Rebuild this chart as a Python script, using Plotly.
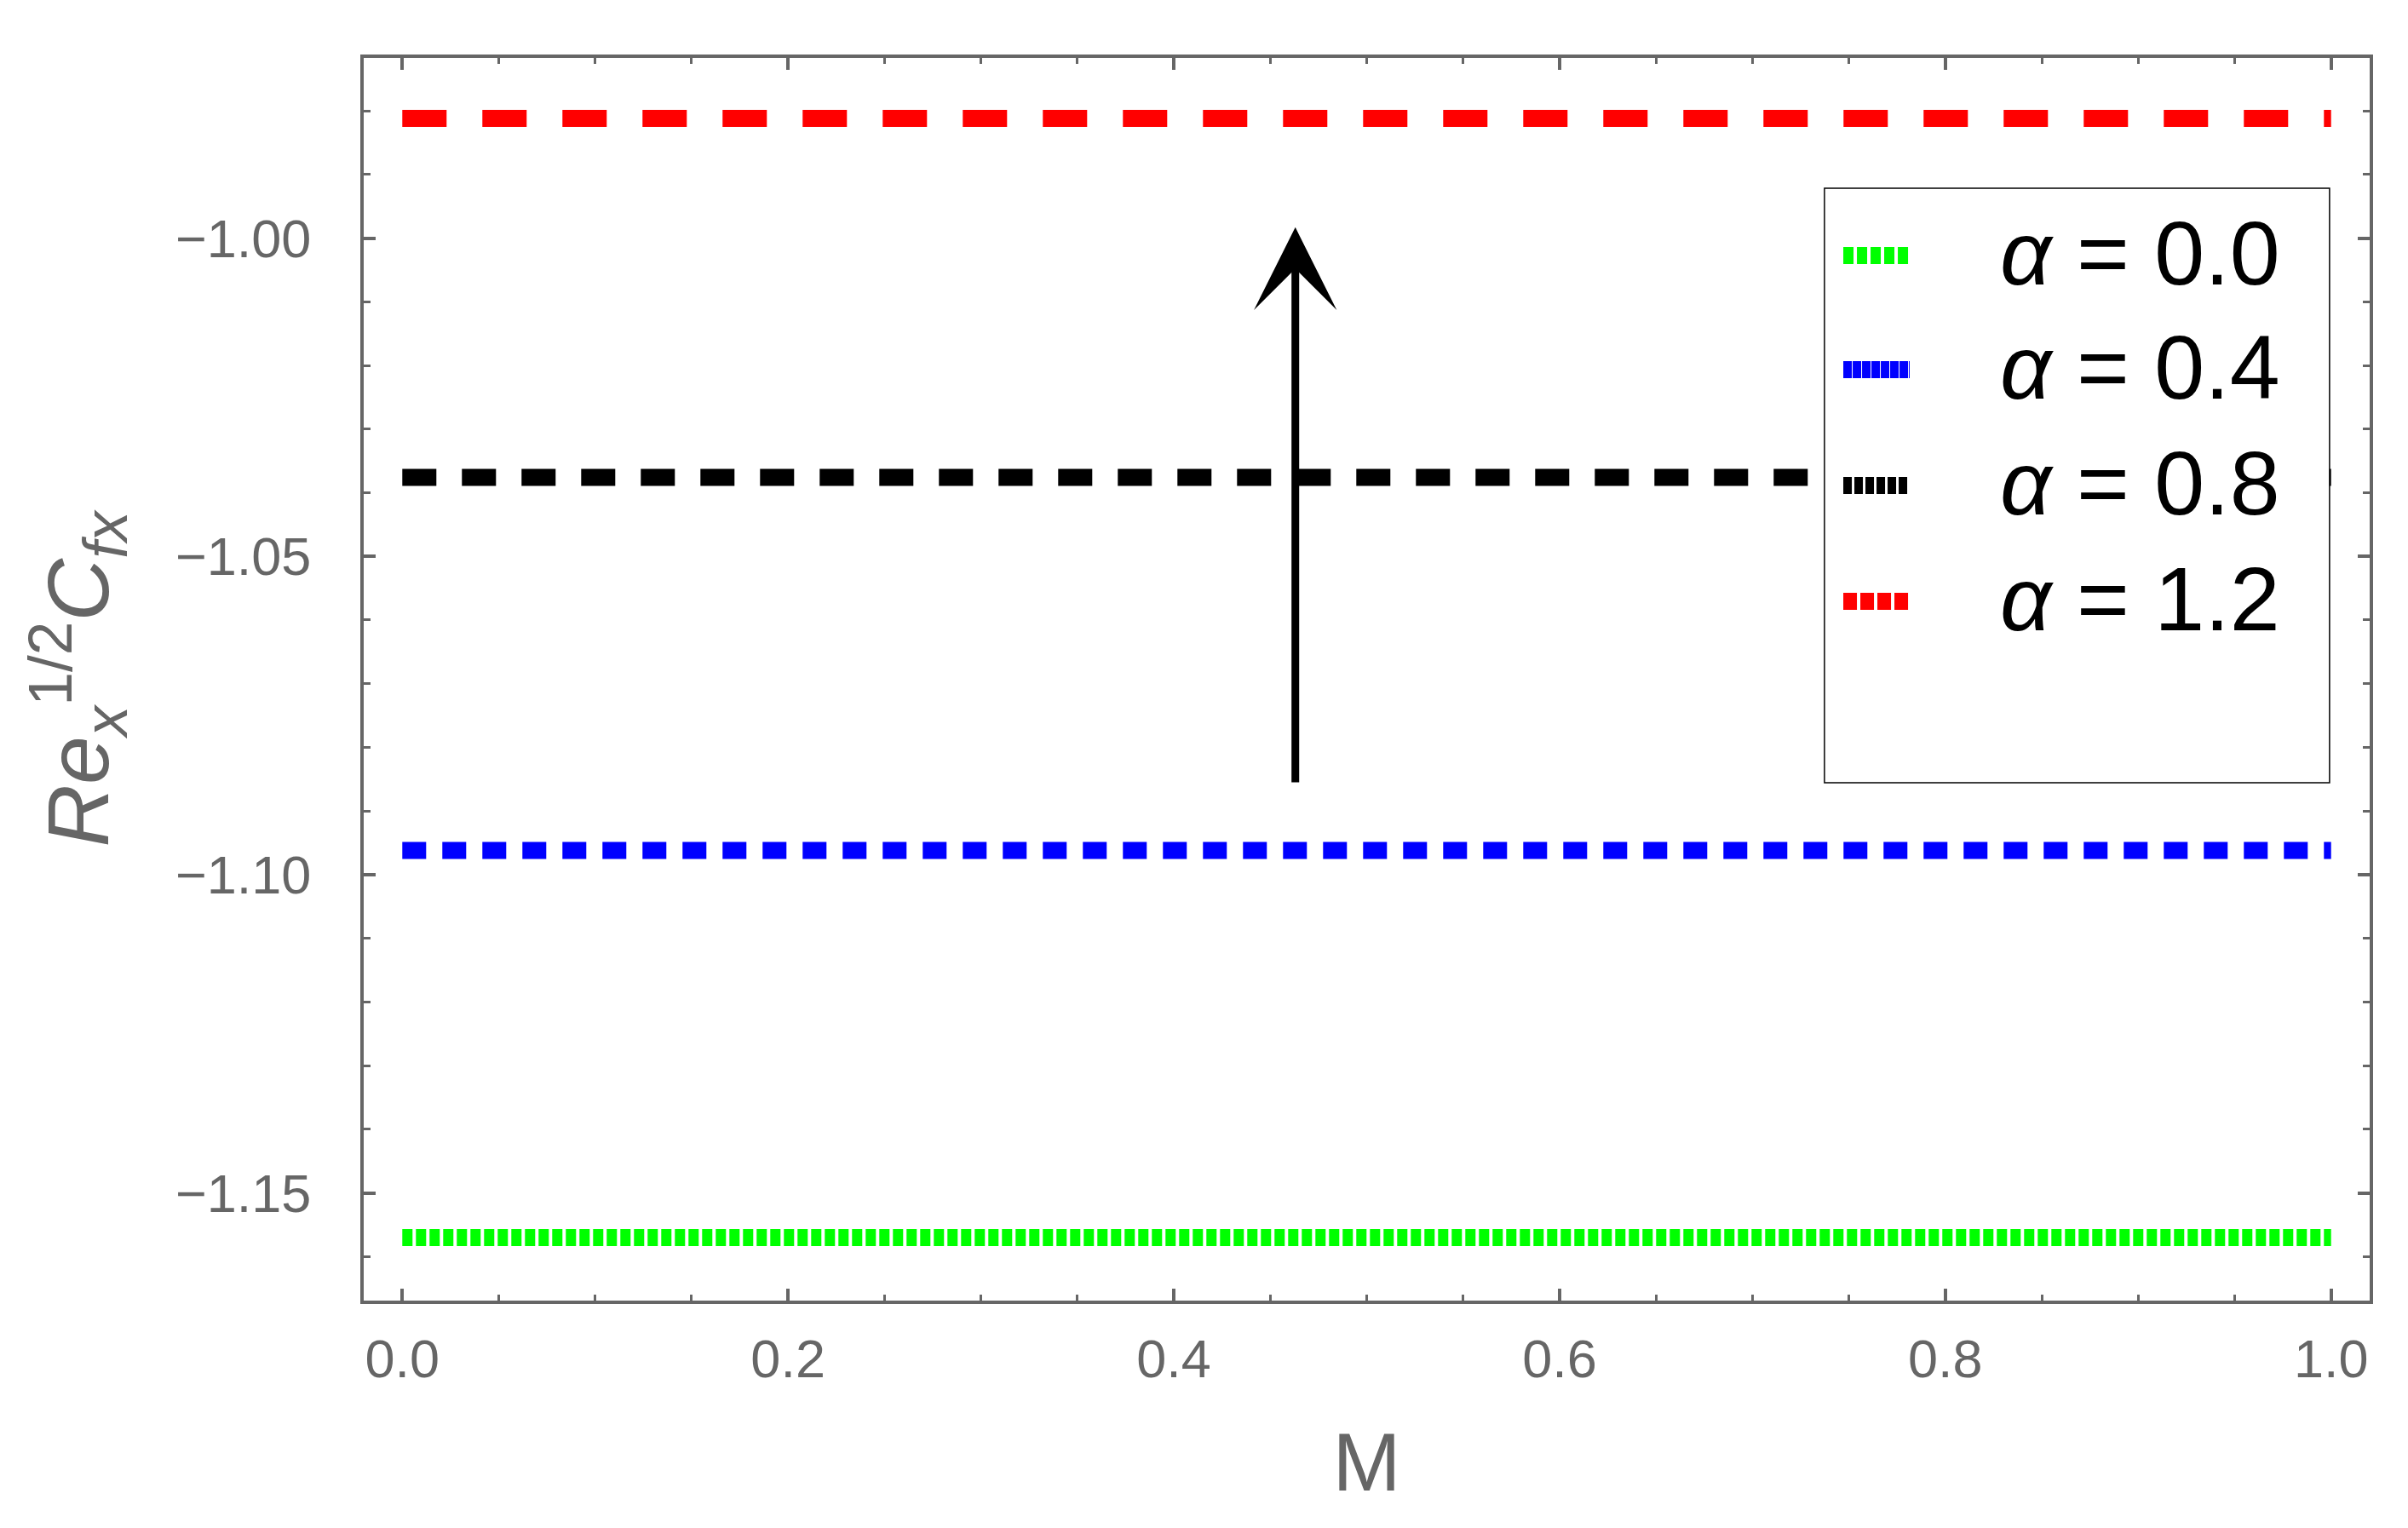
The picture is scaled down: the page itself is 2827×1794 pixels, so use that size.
import plotly.graph_objects as go

# ---- data ----
M = [0.0, 1.0]
alpha_labels = [0.0, 0.4, 0.8, 1.2]
cf_alpha_00 = [-1.157, -1.157]
cf_alpha_04 = [-1.0962, -1.0962]
cf_alpha_08 = [-1.0376, -1.0376]
cf_alpha_12 = [-0.9812, -0.9812]

arrow_x = 0.463
arrow_y_tail = -1.0857
arrow_y_head = -0.9983

series = [cf_alpha_00, cf_alpha_04, cf_alpha_08, cf_alpha_12]
colors = ["#00FF00", "#0000FF", "#000000", "#FF0000"]
dashes = ["12px,4px", "28px,19px", "40px,30px", "52px,42px"]
legend_dashes = ["12px,4px", "10px,1px", "10px,3px", "16px,4px"]

AX = "#666666"
FONT = "Liberation Sans, Arial, sans-serif"

fig = go.Figure()
for vals, c, d, a in zip(series, colors, dashes, alpha_labels):
    fig.add_trace(go.Scatter(x=M, y=vals, mode="lines",
                             line=dict(color=c, width=20, dash=d),
                             name=f"α = {a:.1f}", showlegend=False))

# arrow
fig.add_annotation(x=arrow_x, y=arrow_y_head, ax=arrow_x, ay=arrow_y_tail,
                   xref="x", yref="y", axref="x", ayref="y",
                   showarrow=True, arrowhead=3, arrowsize=1.8, arrowwidth=9,
                   arrowcolor="black", text="")

# manual legend
box = dict(x0=0.7282, x1=0.9800, y0=0.4167, y1=0.8951)
fig.add_shape(type="rect", xref="paper", yref="paper", layer="above",
              fillcolor="white", line=dict(color="black", width=1.5), **box)
row_y = [0.8430, 0.7511, 0.6579, 0.5647]
for a, c, ld, yy in zip(alpha_labels, colors, legend_dashes, row_y):
    fig.add_shape(type="line", xref="paper", yref="paper", layer="above",
                  x0=0.7376, x1=0.7707, y0=yy - 0.002, y1=yy - 0.002,
                  line=dict(color=c, width=20, dash=ld))
    fig.add_annotation(x=0.8150, y=yy, xref="paper", yref="paper",
                       xanchor="left", yanchor="middle", showarrow=False,
                       text=f"<i>α</i> = {a:.1f}",
                       font=dict(family=FONT, size=106, color="black"))

axis_common = dict(showline=True, linecolor=AX, linewidth=4, mirror="ticks",
                   ticks="inside", tickcolor=AX, tickwidth=4, ticklen=14,
                   showgrid=False, zeroline=False,
                   tickfont=dict(family=FONT, size=63, color=AX))

fig.update_xaxes(range=[-0.02, 1.02], tick0=0, dtick=0.2, tickformat=".1f",
                 minor=dict(ticks="inside", dtick=0.05, ticklen=7, tickwidth=3, tickcolor=AX),
                 ticklabelstandoff=10,
                 title=dict(text="M", font=dict(family=FONT, size=96, color=AX), standoff=55),
                 **axis_common)
fig.update_yaxes(range=[-1.1669, -0.9717], tick0=-1.0, dtick=0.05, tickformat=".2f",
                 minor=dict(ticks="inside", dtick=0.01, ticklen=8, tickwidth=3, tickcolor=AX),
                 ticklabelstandoff=45,
                 title=dict(text="<i>Re</i><sub><i>x</i></sub><sup>1/2</sup><i>C</i><sub><i>fx</i></sub>",
                            font=dict(family=FONT, size=102, color=AX), standoff=45),
                 **axis_common)

fig.update_layout(width=2827, height=1794, autosize=False,
                  margin=dict(l=427, r=45, t=68, b=267, pad=0),
                  plot_bgcolor="white", paper_bgcolor="white",
                  showlegend=False,
                  font=dict(family=FONT, color=AX))

fig.write_html("out.html", config={"displayModeBar": False},
               post_script=["document.body.style.margin='0';"])
